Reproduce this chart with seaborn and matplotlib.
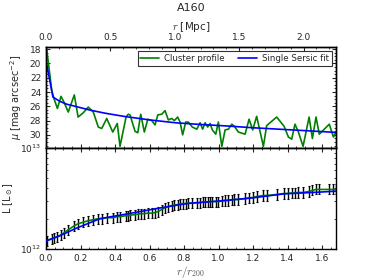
import numpy as np
import pandas as pd
import matplotlib
matplotlib.use("Agg")
import matplotlib.pyplot as plt
import seaborn as sns
from matplotlib.ticker import MultipleLocator, NullFormatter

# ---- data ----
r_data = [0.004, 0.033, 0.046, 0.066, 0.087, 0.104, 0.129, 0.164, 0.186, 0.216,
          0.245, 0.274, 0.303, 0.323, 0.352, 0.387, 0.413, 0.429, 0.464, 0.477,
          0.487, 0.516, 0.532, 0.549, 0.570, 0.590, 0.613, 0.632, 0.648, 0.671,
          0.690, 0.709, 0.729, 0.744, 0.763, 0.777, 0.792, 0.810, 0.825, 0.848,
          0.874, 0.893, 0.908, 0.922, 0.937, 0.951, 0.964, 0.984, 0.999, 1.019,
          1.038, 1.057, 1.077, 1.092, 1.115, 1.154, 1.177, 1.198, 1.221, 1.260,
          1.279, 1.337, 1.380, 1.405, 1.424, 1.443, 1.463, 1.490, 1.525, 1.544,
          1.565, 1.584, 1.642, 1.666, 1.681]
mu_data = [18.0, 23.7, 24.9, 26.3, 24.6, 25.4, 26.8, 24.4, 27.5, 26.9,
           26.1, 26.8, 28.9, 29.1, 27.7, 29.6, 28.4, 31.6, 27.5, 27.1,
           27.2, 29.5, 29.7, 27.1, 29.6, 27.8, 28.0, 28.6, 27.2, 27.1,
           26.6, 27.9, 27.7, 28.0, 27.5, 28.2, 30.0, 28.2, 28.2, 28.9,
           29.2, 28.3, 29.2, 28.3, 28.9, 28.4, 29.3, 29.9, 28.2, 31.6,
           29.3, 29.2, 28.5, 28.8, 29.6, 29.9, 27.8, 29.3, 27.4, 31.6,
           28.7, 27.5, 28.8, 30.3, 30.6, 28.5, 29.6, 31.6, 27.5, 30.5,
           27.5, 29.9, 28.5, 30.3, 29.6]
logL_data = [12.08, 12.10, 12.11, 12.12, 12.14, 12.16, 12.19, 12.23, 12.25, 12.265,
             12.28, 12.29, 12.30, 12.30, 12.31, 12.31, 12.32, 12.32, 12.33, 12.33,
             12.335, 12.34, 12.345, 12.35, 12.35, 12.355, 12.355, 12.36, 12.37, 12.39,
             12.41, 12.42, 12.43, 12.435, 12.44, 12.445, 12.45, 12.45, 12.455, 12.455,
             12.46, 12.46, 12.465, 12.465, 12.465, 12.47, 12.47, 12.47, 12.47, 12.475,
             12.48, 12.48, 12.485, 12.49, 12.49, 12.50, 12.505, 12.51, 12.52, 12.53,
             12.53, 12.54, 12.55, 12.55, 12.555, 12.555, 12.56, 12.56, 12.57, 12.58,
             12.59, 12.59, 12.59, 12.59, 12.59]
logL_err = 0.05

r_fit_mu = [0.0, 0.04, 0.08, 0.12, 0.17, 0.25, 0.34, 0.45, 0.60, 0.75, 0.90,
            1.05, 1.20, 1.35, 1.50, 1.68]
mu_fit = [19.6, 24.7, 25.3, 25.7, 26.0, 26.5, 26.95, 27.4, 27.9, 28.3, 28.55,
          28.75, 29.0, 29.2, 29.4, 29.65]

r_fit_L = [0.0, 0.08, 0.168, 0.313, 0.545, 0.64, 0.816, 1.0, 1.19, 1.385, 1.58, 1.68]
logL_fit = [12.08, 12.13, 12.20, 12.30, 12.37, 12.40, 12.45, 12.475, 12.505,
            12.547, 12.563, 12.573]

r200_mpc = 1.34  # Mpc per unit r/r200 (top axis scale)

# ---- plotting ----
sns.set_style("ticks")
plt.rcParams['font.family'] = ['DejaVu Sans']
plt.rcParams.update({
    "xtick.direction": "in", "ytick.direction": "in",
    "xtick.top": True, "ytick.right": True,
    "xtick.minor.visible": True, "ytick.minor.visible": True,
    "axes.edgecolor": "black", "axes.linewidth": 1.0,
    "xtick.labelsize": 6.5, "ytick.labelsize": 6.5,
    "xtick.major.size": 3, "ytick.major.size": 3,
    "xtick.minor.size": 1.5, "ytick.minor.size": 1.5,
})

fig = plt.figure(figsize=(3.74, 2.80), dpi=100)
ax1 = fig.add_axes([0.123, 0.471, 0.775, 0.361])
ax2 = fig.add_axes([0.123, 0.111, 0.775, 0.360], sharex=ax1)

df_mu = pd.DataFrame({"r": r_data, "mu": mu_data})
df_fit = pd.DataFrame({"r": r_fit_mu, "mu": mu_fit})
sns.lineplot(data=df_mu, x="r", y="mu", ax=ax1, color="green", lw=1.2,
             label="Cluster profile", estimator=None, sort=False)
sns.lineplot(data=df_fit, x="r", y="mu", ax=ax1, color="blue", lw=1.2,
             label="Single Sersic fit", estimator=None, sort=False)
ax1.set_xlim(0, 1.68)
ax1.set_ylim(31.85, 17.7)
ax1.yaxis.set_major_locator(MultipleLocator(2))
ax1.yaxis.set_minor_locator(MultipleLocator(0.5))
ax1.xaxis.set_major_locator(MultipleLocator(0.2))
ax1.xaxis.set_minor_locator(MultipleLocator(0.05))
ax1.tick_params(axis="x", labelbottom=False, top=False)
ax1.set_xlabel("")
ax1.set_ylabel(r"$\mu$ [mag arcsec$^{-2}$]", fontsize=7)
leg = ax1.legend(loc="upper right", ncol=2, fontsize=6.2, frameon=True,
                 fancybox=False, edgecolor="black", handlelength=2.2,
                 borderpad=0.3, columnspacing=1.5, handletextpad=0.6)
leg.get_frame().set_linewidth(0.8)

# top axis in Mpc
axt = ax1.twiny()
axt.set_xlim(0, 1.68 * r200_mpc)
axt.xaxis.set_major_locator(MultipleLocator(0.5))
axt.xaxis.set_minor_locator(MultipleLocator(0.1))
axt.tick_params(axis="x", which="both", direction="in", labelsize=6.5)
axt.set_xlabel(r"$r$ [Mpc]", fontsize=7.5, labelpad=2, math_fontfamily="cm")
axt.set_title("A160", fontsize=8, pad=7)

L_data = 10 ** np.array(logL_data)
L_lo = L_data - 10 ** (np.array(logL_data) - logL_err)
L_hi = 10 ** (np.array(logL_data) + logL_err) - L_data
ax2.errorbar(r_data, L_data, yerr=[L_lo, L_hi], fmt="none", ecolor="black",
             elinewidth=1.0, capsize=1.0, capthick=0.8, zorder=1)
df_L = pd.DataFrame({"r": r_data, "L": L_data})
df_Lf = pd.DataFrame({"r": r_fit_L, "L": 10 ** np.array(logL_fit)})
sns.lineplot(data=df_Lf, x="r", y="L", ax=ax2, color="blue", lw=1.2,
             estimator=None, sort=False, zorder=3)
sns.lineplot(data=df_L, x="r", y="L", ax=ax2, color="green", lw=1.2,
             estimator=None, sort=False, zorder=2)
ax2.set_yscale("log")
ax2.set_ylim(1e12, 1e13)
ax2.yaxis.set_minor_formatter(NullFormatter())
ax2.set_xlim(0, 1.68)
ax2.xaxis.set_major_locator(MultipleLocator(0.2))
ax2.xaxis.set_minor_locator(MultipleLocator(0.05))
ax2.set_xlabel(r"$r/r_{200}$", fontsize=8, color="#555555", labelpad=1,
               math_fontfamily="cm")
ax2.set_ylabel(r"L [L$_\odot$]", fontsize=7)

fig.savefig("out.png", dpi=100)
